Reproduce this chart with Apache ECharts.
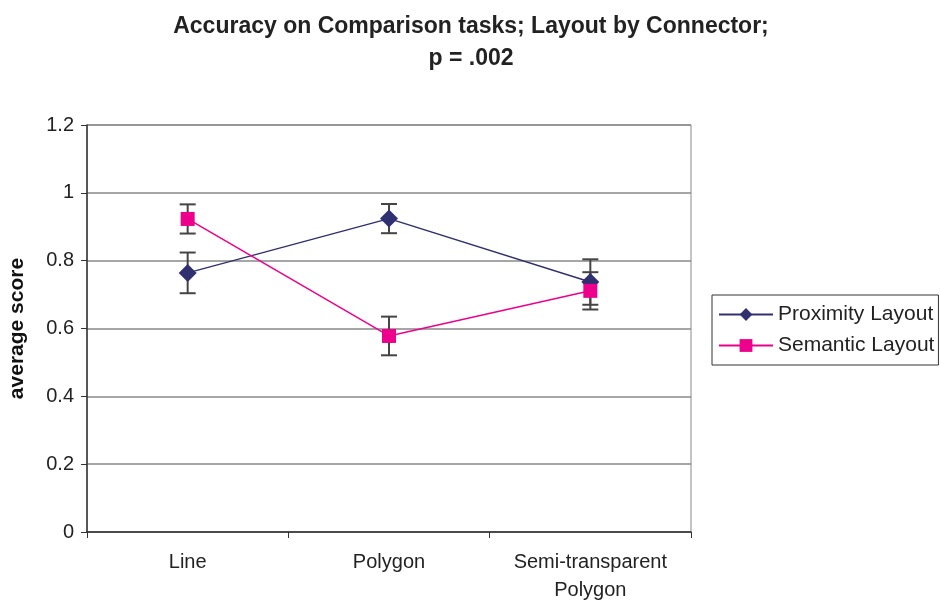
<!DOCTYPE html>
<html>
<head>
<meta charset="utf-8">
<script src="https://cdn.jsdelivr.net/npm/echarts@6/dist/echarts.min.js"></script>
<style>
html, body { margin: 0; padding: 0; background: #fff; }
#container { width: 940px; height: 601px; }
</style>
</head>
<body>
<div id="container"></div>
<script>
// 数据
var categories = ['Line', 'Polygon', 'Semi-transparent\nPolygon'];
var proximity = [0.764, 0.924, 0.737];
var proximityErr = [0.06, 0.043, 0.067];
var semantic = [0.923, 0.578, 0.711];
var semanticErr = [0.043, 0.057, 0.055];
var yTicks = [0, 0.2, 0.4, 0.6, 0.8, 1, 1.2];

var dom = document.getElementById('container');
var myChart = echarts.init(dom);

// 误差线数据：[类别索引, 下限, 上限]
function errData(vals, errs) {
	var d = [];
	for (var i = 0; i < vals.length; i++) {
		d.push([i, vals[i] - errs[i], vals[i] + errs[i]]);
	}
	return d;
}

function renderErr(params, api) {
	var x = api.value(0);
	var lo = api.coord([x, api.value(1)]);
	var hi = api.coord([x, api.value(2)]);
	var half = 8;
	var style = { stroke: '#444', lineWidth: 2 };
	return {
		type: 'group',
		children: [
			{ type: 'line', shape: { x1: lo[0], y1: lo[1], x2: hi[0], y2: hi[1] }, style: style },
			{ type: 'line', shape: { x1: lo[0] - half, y1: lo[1], x2: lo[0] + half, y2: lo[1] }, style: style },
			{ type: 'line', shape: { x1: hi[0] - half, y1: hi[1], x2: hi[0] + half, y2: hi[1] }, style: style }
		]
	};
}

var font = 'Liberation Sans, Arial, sans-serif';

myChart.setOption({
	animation: false,
	backgroundColor: '#fff',
	title: {
		text: 'Accuracy on Comparison tasks; Layout by Connector;\np = .002',
		left: 466,
		textAlign: 'center',
		top: 6,
		textStyle: { fontFamily: font, fontSize: 23, fontWeight: 'bold', color: '#222', lineHeight: 32 }
	},
	legend: {
		orient: 'vertical',
		left: 712,
		top: 295,
		width: 225,
		padding: [9, 4, 9, 6],
		itemGap: 10,
		itemWidth: 54,
		itemHeight: 16,
		borderColor: '#333',
		borderWidth: 1,
		borderRadius: 0,
		textStyle: { fontFamily: font, fontSize: 21, color: '#222' },
		data: ['Proximity Layout', 'Semantic Layout']
	},
	grid: {
		left: 87, right: 249, top: 125, bottom: 69,
		containLabel: false,
		outerBoundsMode: 'none',
		show: true, borderColor: '#888', borderWidth: 1
	},
	xAxis: {
		type: 'category',
		data: categories,
		boundaryGap: true,
		axisLine: { lineStyle: { color: '#333', width: 1.5 } },
		axisTick: { show: true, length: 6, lineStyle: { color: '#333' } },
		axisLabel: { fontFamily: font, fontSize: 20, color: '#222', margin: 16, lineHeight: 28 }
	},
	yAxis: {
		type: 'value',
		min: 0, max: 1.2, interval: 0.2,
		name: 'average score',
		nameLocation: 'middle',
		nameGap: 59,
		nameTextStyle: { fontFamily: font, fontSize: 21, fontWeight: 'bold', color: '#111' },
		axisLine: { show: true, lineStyle: { color: '#333', width: 1.5 } },
		axisTick: { show: true, length: 6, lineStyle: { color: '#333' } },
		splitLine: { lineStyle: { color: '#888', width: 1.5 } },
		axisLabel: {
			fontFamily: font, fontSize: 20, color: '#222', margin: 13,
			formatter: function (v) {
				for (var i = 0; i < yTicks.length; i++) {
					if (Math.abs(v - yTicks[i]) < 1e-9) return String(yTicks[i]);
				}
				return '';
			}
		}
	},
	series: [
		{
			type: 'custom',
			name: 'perr',
			renderItem: renderErr,
			data: errData(proximity, proximityErr),
			z: 1,
			silent: true
		},
		{
			type: 'custom',
			name: 'serr',
			renderItem: renderErr,
			data: errData(semantic, semanticErr),
			z: 1,
			silent: true
		},
		{
			name: 'Proximity Layout',
			type: 'line',
			data: proximity,
			symbol: 'diamond',
			symbolSize: 18,
			z: 3,
			itemStyle: { color: '#303070' },
			lineStyle: { color: '#303070', width: 1.5 }
		},
		{
			name: 'Semantic Layout',
			type: 'line',
			data: semantic,
			symbol: 'rect',
			symbolSize: 14,
			z: 4,
			itemStyle: { color: '#ec008c' },
			lineStyle: { color: '#ec008c', width: 1.5 }
		}
	]
});
</script>
</body>
</html>
